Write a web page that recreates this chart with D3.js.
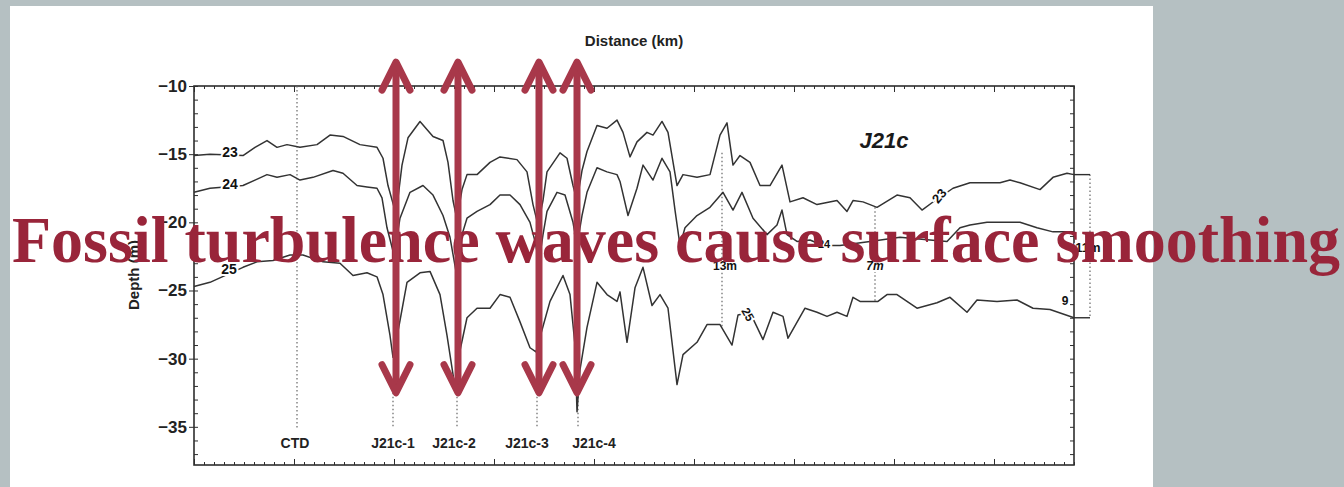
<!DOCTYPE html>
<html>
<head>
<meta charset="utf-8">
<style>
  html, body { margin: 0; padding: 0; background: #b5c0c2; }
  svg { display: block; }
</style>
</head>
<body>
<svg id="svg" width="1344" height="487"></svg>
<script src="https://d3js.org/d3.v7.min.js"></script>
<script>
// isopycnal depths [distance km, depth m]
const iso23 = [[0.00,-15.1],[0.16,-15.0],[0.49,-15.1],[0.61,-14.5],[0.73,-14.0],[0.83,-14.5],[0.93,-14.3],[1.06,-14.5],[1.23,-14.3],[1.36,-13.6],[1.49,-13.7],[1.66,-14.3],[1.83,-14.5],[1.89,-15.3],[1.94,-17.3],[2.02,-19.4],[2.08,-15.8],[2.14,-13.8],[2.26,-12.6],[2.39,-13.7],[2.49,-14.0],[2.54,-15.6],[2.59,-18.4],[2.63,-19.8],[2.68,-17.6],[2.73,-16.5],[2.83,-16.5],[2.96,-15.6],[3.06,-15.2],[3.23,-15.4],[3.33,-16.3],[3.39,-18.7],[3.44,-20.2],[3.49,-18.4],[3.53,-16.3],[3.66,-14.9],[3.73,-15.3],[3.79,-17.3],[3.83,-18.4],[3.88,-16.2],[3.93,-14.8],[4.03,-12.9],[4.13,-13.1],[4.23,-12.5],[4.29,-13.4],[4.36,-15.2],[4.43,-14.1],[4.53,-13.4],[4.59,-13.6],[4.68,-12.6],[4.74,-13.4],[4.83,-17.3],[4.89,-16.5],[5.03,-16.7],[5.16,-16.5],[5.26,-13.6],[5.33,-12.7],[5.39,-15.8],[5.46,-15.1],[5.56,-15.6],[5.66,-17.3],[5.76,-17.3],[5.88,-15.8],[5.96,-18.5],[6.09,-18.2],[6.23,-18.7],[6.43,-18.4],[6.53,-19.2],[6.59,-18.4],[6.69,-18.5],[6.83,-18.9],[7.03,-18.0],[7.16,-18.2],[7.28,-19.1],[7.41,-18.4],[7.59,-17.5],[7.76,-17.1],[7.93,-17.1],[8.06,-17.1],[8.16,-16.9],[8.26,-17.1],[8.46,-17.6],[8.59,-16.7],[8.73,-16.4],[8.80,-16.5]]

const iso24 = [[0.00,-17.8],[0.16,-17.5],[0.49,-17.3],[0.61,-16.9],[0.73,-16.5],[0.83,-16.7],[0.96,-16.5],[1.06,-16.9],[1.19,-16.7],[1.39,-16.2],[1.49,-16.4],[1.63,-17.3],[1.73,-17.4],[1.83,-17.5],[1.88,-18.2],[1.93,-20.4],[2.00,-22.4],[2.06,-19.7],[2.16,-17.8],[2.29,-17.3],[2.39,-18.0],[2.49,-19.5],[2.56,-21.1],[2.62,-23.6],[2.68,-20.9],[2.73,-19.7],[2.83,-19.2],[2.96,-18.7],[3.06,-18.0],[3.16,-18.0],[3.26,-18.7],[3.36,-20.0],[3.41,-21.4],[3.45,-22.9],[3.49,-20.9],[3.53,-19.2],[3.63,-17.8],[3.71,-18.0],[3.79,-20.0],[3.83,-21.7],[3.88,-19.5],[3.93,-17.8],[4.03,-16.0],[4.13,-16.3],[4.23,-16.5],[4.26,-17.0],[4.34,-19.5],[4.43,-17.5],[4.49,-15.8],[4.59,-16.9],[4.68,-15.3],[4.76,-16.3],[4.81,-19.1],[4.86,-21.7],[4.91,-20.4],[5.03,-19.5],[5.16,-18.9],[5.29,-17.8],[5.39,-19.1],[5.48,-17.8],[5.59,-19.7],[5.73,-20.9],[5.83,-20.2],[5.88,-19.1],[5.93,-20.9],[6.03,-21.4],[6.16,-21.3],[6.29,-21.7],[6.46,-21.7],[6.76,-21.4],[7.06,-21.1],[7.36,-21.3],[7.53,-21.4],[7.66,-20.4],[7.76,-20.2],[7.93,-20.0],[8.13,-20.0],[8.26,-20.0],[8.43,-20.4],[8.59,-20.7],[8.80,-20.7]]

const iso25 = [[0.00,-24.7],[0.16,-24.4],[0.49,-23.3],[0.63,-22.9],[0.79,-22.8],[0.96,-22.4],[1.09,-22.4],[1.29,-22.9],[1.46,-23.0],[1.59,-23.9],[1.73,-23.7],[1.83,-24.0],[1.89,-25.3],[1.96,-28.3],[1.99,-29.9],[2.06,-27.2],[2.13,-24.4],[2.26,-23.7],[2.36,-23.6],[2.46,-25.3],[2.53,-28.3],[2.61,-32.1],[2.66,-29.4],[2.73,-27.0],[2.83,-26.3],[2.96,-26.3],[3.06,-25.3],[3.16,-25.5],[3.26,-27.3],[3.36,-29.2],[3.42,-29.5],[3.48,-27.9],[3.56,-25.8],[3.69,-23.9],[3.76,-25.3],[3.81,-29.0],[3.83,-33.9],[3.86,-30.8],[3.93,-27.7],[4.03,-24.4],[4.13,-25.3],[4.23,-25.8],[4.26,-25.1],[4.33,-28.8],[4.41,-24.8],[4.49,-23.3],[4.58,-26.1],[4.66,-25.3],[4.74,-26.3],[4.83,-31.9],[4.89,-29.7],[5.03,-28.8],[5.13,-27.5],[5.26,-27.5],[5.38,-29.0],[5.44,-26.8],[5.56,-26.6],[5.69,-28.6],[5.79,-26.6],[5.89,-26.9],[5.94,-28.5],[6.11,-26.3],[6.23,-26.6],[6.33,-26.9],[6.43,-26.6],[6.53,-26.9],[6.59,-25.5],[6.66,-25.8],[6.84,-25.8],[6.93,-25.3],[7.03,-25.3],[7.23,-26.3],[7.43,-25.9],[7.56,-25.5],[7.73,-26.6],[7.83,-25.7],[8.03,-25.8],[8.23,-25.7],[8.39,-26.3],[8.56,-26.4],[8.80,-27.0]]

const yTickLabels = [-10, -15, -20, -25, -30, -35]

const stationNames = ["CTD", "J21c-1", "J21c-2", "J21c-3", "J21c-4"]
const stationKm = [1.03, 1.99, 2.63, 3.43, 3.84]
const stationLabelKm = [1.01, 1.99, 2.60, 3.33, 4.00]
const stationTop = [-10, -32.5, -32.5, -32.5, -32.5]
const stationBottom = -35.1

const spanNames = ["13m", "7m", "11m"]
const spanKm = [5.28, 6.81, 8.96]
const spanTop = [-14.9, -18.9, -16.5]
const spanBottom = [-27.7, -25.8, -27.0]

const arrowKm = [2.02, 2.64, 3.45, 3.83]
const arrowTop = -8.25
const arrowBottom = -32.5

const headline = "Fossil turbulence waves cause surface smoothing"

const svg = d3.select("#svg")
const plotLeft = 194, plotRight = 1074, plotTop = 86, plotBottom = 465

const x = d3.scaleLinear().domain([0, 8.8]).range([plotLeft, plotRight])
const y = d3.scaleLinear().domain([-10, -37.8]).range([plotTop, plotBottom])

const ink = "#2e2e2e"
const sans = "'Liberation Sans', Arial, sans-serif"

// white page
svg.append("rect").attr("x", 10).attr("y", 6).attr("width", 1143).attr("height", 490).attr("fill", "#fff")

// frame
svg.append("rect")
  .attr("x", plotLeft).attr("y", plotTop).attr("width", plotRight - plotLeft).attr("height", plotBottom - plotTop)
  .attr("fill", "none").attr("stroke", ink).attr("stroke-width", 1.6)

// y ticks, left and right, inward
const minorY = d3.range(-10, -38, -1)
svg.append("g").attr("transform", `translate(${plotLeft},0)`)
  .call(d3.axisRight(y).tickValues(minorY).tickSize(4).tickFormat(""))
  .call(g => g.select(".domain").remove())
  .selectAll("line").attr("stroke", ink)
svg.append("g").attr("transform", `translate(${plotRight},0)`)
  .call(d3.axisLeft(y).tickValues(minorY).tickSize(4).tickFormat(""))
  .call(g => g.select(".domain").remove())
  .selectAll("line").attr("stroke", ink)
svg.append("g").attr("transform", `translate(${plotLeft},0)`)
  .call(d3.axisLeft(y).tickValues(yTickLabels).tickSize(5).tickPadding(2).tickFormat(d3.format("d")))
  .call(g => g.select(".domain").remove())
  .call(g => g.selectAll("line").attr("stroke", ink))
  .call(g => g.selectAll("text").attr("font-family", sans).attr("font-size", 17)
    .attr("font-weight", "bold").attr("fill", "#222"))

// x ticks, top and bottom, inward
const minorX = d3.range(0, 8.81, 0.1)
const majorX = d3.range(0, 8.81, 1)
svg.append("g").attr("transform", `translate(0,${plotTop})`)
  .call(d3.axisBottom(x).tickValues(minorX).tickSize(3).tickFormat(""))
  .call(g => g.select(".domain").remove())
  .selectAll("line").attr("stroke", ink)
svg.append("g").attr("transform", `translate(0,${plotTop})`)
  .call(d3.axisBottom(x).tickValues(majorX).tickSize(6).tickFormat(""))
  .call(g => g.select(".domain").remove())
  .selectAll("line").attr("stroke", ink)
svg.append("g").attr("transform", `translate(0,${plotBottom})`)
  .call(d3.axisTop(x).tickValues(minorX).tickSize(3).tickFormat(""))
  .call(g => g.select(".domain").remove())
  .selectAll("line").attr("stroke", ink)
svg.append("g").attr("transform", `translate(0,${plotBottom})`)
  .call(d3.axisTop(x).tickValues(majorX).tickSize(6).tickFormat(""))
  .call(g => g.select(".domain").remove())
  .selectAll("line").attr("stroke", ink)

// axis titles
svg.append("text").attr("x", 634).attr("y", 46).attr("text-anchor", "middle")
  .attr("font-family", sans).attr("font-size", 15).attr("font-weight", "bold").attr("fill", "#222")
  .text("Distance (km)")
svg.append("text").attr("transform", "translate(139,275) rotate(-90)").attr("text-anchor", "middle")
  .attr("font-family", sans).attr("font-size", 15).attr("font-weight", "bold").attr("fill", "#222")
  .text("Depth (m)")
svg.append("text").attr("x", 884).attr("y", 148).attr("text-anchor", "middle")
  .attr("font-family", sans).attr("font-size", 22).attr("font-weight", "bold").attr("font-style", "italic")
  .attr("fill", "#1a1a1a").text("J21c")

// station dotted lines
const dotted = "1.5,2.5"
stationKm.forEach((k, i) => {
  svg.append("line")
    .attr("x1", x(k)).attr("x2", x(k))
    .attr("y1", y(stationTop[i])).attr("y2", y(stationBottom))
    .attr("stroke", "#666").attr("stroke-width", 1.2).attr("stroke-dasharray", dotted)
  svg.append("text").attr("x", x(stationLabelKm[i])).attr("y", y(-36.55)).attr("text-anchor", "middle")
    .attr("font-family", sans).attr("font-size", 14).attr("font-weight", "bold").attr("fill", "#222")
    .text(stationNames[i])
})

// span markers
spanKm.forEach((k, i) => {
  svg.append("line")
    .attr("x1", x(k)).attr("x2", x(k))
    .attr("y1", y(spanTop[i])).attr("y2", y(spanBottom[i]))
    .attr("stroke", "#666").attr("stroke-width", 1.2).attr("stroke-dasharray", dotted)
})
// right bracket ends
;[spanTop[2], spanBottom[2]].forEach(d => {
  svg.append("line").attr("x1", x(8.8)).attr("x2", x(spanKm[2]))
    .attr("y1", y(d)).attr("y2", y(d)).attr("stroke", ink).attr("stroke-width", 1.4)
})

// isopycnals
const line = d3.line().x(d => x(d[0])).y(d => y(d[1])).curve(d3.curveLinear)
const curves = [iso23, iso24, iso25]
svg.append("g").selectAll("path").data(curves).enter().append("path")
  .attr("d", line)
  .attr("fill", "none").attr("stroke", "#333").attr("stroke-width", 1.5)
  .attr("stroke-linejoin", "round")

// curve labels
const halo = sel => sel.attr("font-family", sans).attr("font-weight", "bold").attr("fill", "#111")
  .attr("stroke", "#fff").attr("stroke-width", 4).attr("paint-order", "stroke")
svg.append("text").attr("x", x(0.36)).attr("y", y(-14.9)).attr("text-anchor", "middle")
  .attr("dominant-baseline", "middle").attr("font-size", 14).call(halo).text("23")
svg.append("text").attr("x", x(0.36)).attr("y", y(-17.3)).attr("text-anchor", "middle")
  .attr("dominant-baseline", "middle").attr("font-size", 14).call(halo).text("24")
svg.append("text").attr("x", x(0.35)).attr("y", y(-23.5)).attr("text-anchor", "middle")
  .attr("dominant-baseline", "middle").attr("font-size", 14).call(halo).text("25")
svg.append("text").attr("transform", `translate(${x(7.46)},${y(-18.1)}) rotate(-50)`).attr("text-anchor", "middle")
  .attr("dominant-baseline", "middle").attr("font-size", 13).call(halo).text("23")
svg.append("text").attr("x", x(6.3)).attr("y", y(-21.7)).attr("text-anchor", "middle")
  .attr("dominant-baseline", "middle").attr("font-size", 11).call(halo).text("24")
svg.append("text").attr("transform", `translate(${x(5.53)},${y(-26.8)}) rotate(60)`).attr("text-anchor", "middle")
  .attr("dominant-baseline", "middle").attr("font-size", 12).call(halo).text("25")
svg.append("text").attr("x", x(8.71)).attr("y", y(-25.8)).attr("text-anchor", "middle")
  .attr("dominant-baseline", "middle").attr("font-size", 12).call(halo).text("9")

// span labels
svg.append("text").attr("x", x(5.31)).attr("y", y(-23.3)).attr("text-anchor", "middle")
  .attr("dominant-baseline", "middle").attr("font-size", 12).call(halo).text(spanNames[0])
svg.append("text").attr("x", x(6.81)).attr("y", y(-23.3)).attr("text-anchor", "middle")
  .attr("dominant-baseline", "middle").attr("font-size", 12).attr("font-style", "italic").call(halo).text(spanNames[1])
svg.append("text").attr("x", x(8.94)).attr("y", y(-21.9)).attr("text-anchor", "middle")
  .attr("dominant-baseline", "middle").attr("font-size", 13).call(halo).text(spanNames[2])

// overlay headline
svg.append("text").attr("x", 12).attr("y", 262)
  .attr("font-family", "'Liberation Serif', 'Times New Roman', serif")
  .attr("font-size", 66).attr("font-weight", "bold").attr("fill", "#99253a")
  .attr("textLength", 1328).attr("lengthAdjust", "spacingAndGlyphs")
  .text(headline)

// double arrows
const arrowColor = "#a8384a"
const head = 28, half = 14
const arrows = svg.append("g").attr("stroke", arrowColor).attr("fill", "none")
  .attr("stroke-width", 7).attr("stroke-linecap", "round").attr("stroke-linejoin", "round")
arrowKm.forEach(k => {
  const ax = x(k), y0 = y(arrowTop), y1 = y(arrowBottom)
  arrows.append("line").attr("x1", ax).attr("x2", ax).attr("y1", y0 + 3).attr("y2", y1 - 3)
    .attr("stroke-linecap", "butt")
  arrows.append("path").attr("d", `M${ax - half},${y0 + head}L${ax},${y0}L${ax + half},${y0 + head}`)
  arrows.append("path").attr("d", `M${ax - half},${y1 - head}L${ax},${y1}L${ax + half},${y1 - head}`)
})
</script>
</body>
</html>
